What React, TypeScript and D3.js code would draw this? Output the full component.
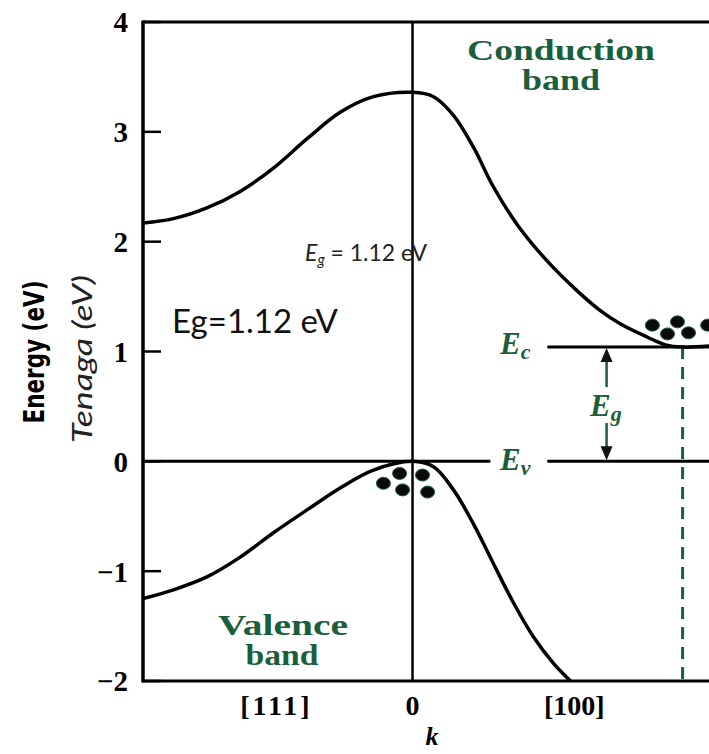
import React from "react"
import { scaleLinear, line, curveCatmullRom } from "d3"

// band structure of Si (k in arbitrary units, E in eV)
const cbK = [-1.0, -0.887, -0.761, -0.638, -0.516, -0.39, -0.267, -0.145, 0, 0.078, 0.152, 0.226, 0.3, 0.39, 0.501, 0.612, 0.698, 0.772, 0.872, 0.939, 1.002, 1.1]
const cbE = [2.17, 2.21, 2.31, 2.46, 2.67, 2.94, 3.18, 3.32, 3.36, 3.32, 3.15, 2.86, 2.5, 2.15, 1.82, 1.55, 1.37, 1.25, 1.13, 1.06, 1.04, 1.05]

const vbK = [-1.0, -0.887, -0.761, -0.638, -0.516, -0.39, -0.267, -0.145, 0, 0.078, 0.152, 0.226, 0.3, 0.375, 0.449, 0.523, 0.586]
const vbE = [-1.25, -1.17, -1.05, -0.87, -0.65, -0.44, -0.24, -0.08, 0, -0.05, -0.26, -0.57, -0.93, -1.29, -1.6, -1.84, -2.0]

// holes at valence top, electrons at conduction minimum
const holeK = [-0.048, 0.037, -0.108, -0.037, 0.056]
const holeE = [-0.11, -0.125, -0.2, -0.26, -0.28]
const elecK = [0.89, 0.983, 0.946, 1.024, 1.095]
const elecE = [1.24, 1.27, 1.16, 1.17, 1.24]

const yTicks = [4, 3, 2, 1, 0, -1, -2]
const xTickLabels = ["[111]", "0", "[100]"]
const xTickK = [-0.505, 0, 0.6]

const EC = 1.04
const EV = 0
const kMinCB = 1.002
const kArrow = 0.72

const GREEN = "#1b5e3b"

export default function App() {
  const left = 143
  const right = 709
  const top = 22
  const bottom = 681

  const x = scaleLinear().domain([-1, 1.1]).range([left, right])
  const y = scaleLinear().domain([-2, 4]).range([bottom, top])

  const bandLine = line<[number, number]>()
    .x(d => x(d[0]))
    .y(d => y(d[1]))
    .curve(curveCatmullRom.alpha(0.5))

  const cbPath = bandLine(cbK.map((k, i) => [k, cbE[i]]))
  const vbPath = bandLine(vbK.map((k, i) => [k, vbE[i]]))

  const ax = x(kArrow)
  const headLen = 14
  const headW = 6

  const serif = "'Liberation Serif', 'Times New Roman', serif"
  const calibri = "Lato, 'Open Sans', sans-serif"

  return (
    <svg
      width={709}
      height={754}
      style={{ position: "absolute", left: 0, top: 0, background: "#fff" }}
    >
      <defs>
        <clipPath id="plot">
          <rect x={left} y={top} width={right - left} height={bottom - top} />
        </clipPath>
      </defs>

      {/* frame */}
      <line x1={left} x2={right} y1={top} y2={top} stroke="#000" strokeWidth={3} />
      <line x1={left} x2={right} y1={bottom} y2={bottom} stroke="#000" strokeWidth={3} />
      <line x1={left} x2={left} y1={top - 1.5} y2={bottom + 1.5} stroke="#000" strokeWidth={3.5} />
      <line x1={x(0)} x2={x(0)} y1={top} y2={bottom} stroke="#000" strokeWidth={2.5} />

      {/* y ticks */}
      {yTicks.map(t => (
        <g key={t}>
          <line x1={left} x2={left + 18} y1={y(t)} y2={y(t)} stroke="#000" strokeWidth={2.5} />
          <text
            x={128}
            y={y(t)}
            dy="0.36em"
            textAnchor="end"
            fontFamily={serif}
            fontWeight="bold"
            fontSize={29}
          >
            {t < 0 ? "\u2212" + Math.abs(t) : t}
          </text>
        </g>
      ))}

      {/* x tick labels */}
      {xTickLabels.map((s, i) => (
        <text
          key={s}
          x={x(xTickK[i])}
          y={715}
          textAnchor="middle"
          fontFamily={serif}
          fontWeight="bold"
          fontSize={28}
          letterSpacing={s === "[111]" ? 3 : 0}
        >
          {s}
        </text>
      ))}
      <text x={432} y={745} textAnchor="middle" fontFamily={serif} fontWeight="bold" fontStyle="italic" fontSize={26}>
        k
      </text>

      {/* axis titles */}
      <text
        transform={"translate(44,352) rotate(-90)"}
        textAnchor="middle"
        fontFamily="'Liberation Sans Narrow', 'DejaVu Sans Condensed', sans-serif"
        fontWeight="bold"
        fontSize={28}
        textLength={143}
        lengthAdjust="spacingAndGlyphs"
      >
        Energy (eV)
      </text>
      <text
        transform={"translate(92,359) rotate(-90)"}
        textAnchor="middle"
        fontFamily={calibri}
        fontStyle="italic"
        fontSize={27}
        fill="#222"
        textLength={168}
        lengthAdjust="spacingAndGlyphs"
      >
        Tenaga (eV)
      </text>

      {/* Ev and Ec levels */}
      <line x1={left} x2={x(0.289)} y1={y(EV)} y2={y(EV)} stroke="#000" strokeWidth={3} />
      <line x1={x(0.5)} x2={right} y1={y(EV)} y2={y(EV)} stroke="#000" strokeWidth={3} />
      <line x1={x(0.5)} x2={right} y1={y(EC)} y2={y(EC)} stroke="#000" strokeWidth={3} />

      {/* dashed line at conduction minimum */}
      <line
        x1={x(kMinCB)}
        x2={x(kMinCB)}
        y1={y(EC)}
        y2={bottom}
        stroke={GREEN}
        strokeWidth={3}
        strokeDasharray="12 8"
      />

      {/* band gap arrows */}
      <line x1={ax} x2={ax} y1={387} y2={y(EC) + headLen} stroke={GREEN} strokeWidth={2.5} />
      <path
        d={`M${ax},${y(EC) + 1}L${ax - headW},${y(EC) + headLen + 1}L${ax + headW},${y(EC) + headLen + 1}Z`}
        fill="#111"
      />
      <line x1={ax} x2={ax} y1={423} y2={y(EV) - headLen} stroke={GREEN} strokeWidth={2.5} />
      <path
        d={`M${ax},${y(EV) - 1}L${ax - headW},${y(EV) - headLen - 1}L${ax + headW},${y(EV) - headLen - 1}Z`}
        fill="#111"
      />

      {/* bands */}
      <g clipPath="url(#plot)">
        <path d={cbPath || ""} fill="none" stroke="#000" strokeWidth={3.5} />
        <path d={vbPath || ""} fill="none" stroke="#000" strokeWidth={3.5} />
        {holeK.map((k, i) => (
          <ellipse key={"h" + i} cx={x(k)} cy={y(holeE[i])} rx={7} ry={6} fill="#0a0a0a" stroke={GREEN} strokeWidth={1} />
        ))}
        {elecK.map((k, i) => (
          <ellipse key={"e" + i} cx={x(k)} cy={y(elecE[i])} rx={7} ry={6} fill="#0a0a0a" stroke={GREEN} strokeWidth={1} />
        ))}
      </g>

      {/* level labels */}
      <g fontFamily={serif} fontWeight="bold" fontStyle="italic" fill={GREEN}>
        <text x={500} y={354} fontSize={31}>
          E<tspan fontSize={22} dy={5}>c</tspan>
        </text>
        <text x={500} y={470} fontSize={31}>
          E<tspan fontSize={22} dy={5}>v</tspan>
        </text>
        <text x={590} y={416} fontSize={31}>
          E<tspan fontSize={22} dy={5}>g</tspan>
        </text>
      </g>

      {/* band names */}
      <g fontFamily={serif} fontWeight="bold" fontSize={30} fill={GREEN} textAnchor="middle">
        <text x={561} y={60} textLength={188} lengthAdjust="spacingAndGlyphs">Conduction</text>
        <text x={561} y={90} textLength={78} lengthAdjust="spacingAndGlyphs">band</text>
        <text x={283} y={635} textLength={130} lengthAdjust="spacingAndGlyphs">Valence</text>
        <text x={282} y={665} textLength={73} lengthAdjust="spacingAndGlyphs">band</text>
      </g>

      {/* gap annotations */}
      <text x={172} y={333} fontFamily={calibri} fontSize={33} fill="#111">
        Eg=1.12 eV
      </text>
      <text x={305} y={261} fontFamily={calibri} fontSize={23} fill="#222">
        <tspan fontStyle="italic">E</tspan>
        <tspan fontStyle="italic" fontSize={15} dy={4}>g</tspan>
        <tspan dy={-4}> = 1.12 eV</tspan>
      </text>
    </svg>
  )
}
